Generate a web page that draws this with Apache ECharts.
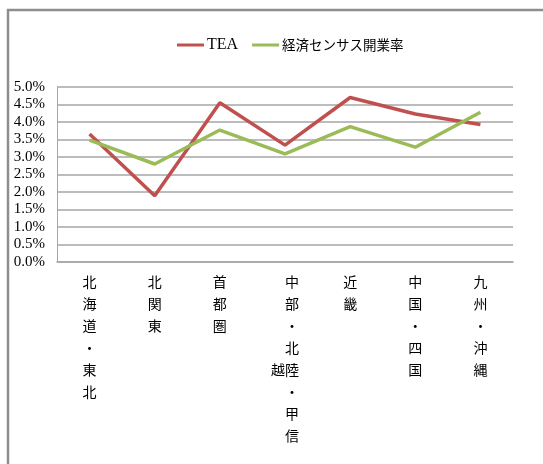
<!DOCTYPE html>
<html>
<head>
<meta charset="utf-8">
<script src="https://cdn.jsdelivr.net/npm/echarts@6/dist/echarts.min.js"></script>
<style>
html,body{margin:0;padding:0;background:#fff;}
#c{width:543px;height:464px;}
</style>
</head>
<body>
<div id="c"></div>
<script>
var categories = ['北海道・東北', '北関東', '首都圏', '中部・北陸・甲信越', '近畿', '中国・四国', '九州・沖縄'];
var teaValues = [3.66, 1.89, 4.55, 3.34, 4.70, 4.23, 3.93];
var censusValues = [3.48, 2.80, 3.77, 3.09, 3.87, 3.28, 4.28];
var seriesNames = ['TEA', '経済センサス開業率'];
var yMin = 0, yMax = 5, yStep = 0.5;

function verticalLabel(name) {
  var chars = Array.from(name);
  if (chars.length > 8) {
    var main = chars.slice(0, 8);
    var rest = chars.slice(8);
    var start = Math.ceil((main.length - rest.length) / 2);
    return main.map(function (c, i) {
      var r = (i >= start && i - start < rest.length) ? rest[i - start] : '\u3000';
      return r + c;
    }).join('\n');
  }
  return chars.join('\n');
}

var chart = echarts.init(document.getElementById('c'));
chart.setOption({
  animation: false,
  backgroundColor: '#ffffff',
  graphic: [{
    type: 'rect',
    shape: {x: 8, y: 10, width: 700, height: 600},
    style: {fill: 'none', stroke: '#8e8e8e', lineWidth: 2.5},
    silent: true
  }],
  legend: {
    top: 32,
    left: 172,
    itemGap: 14,
    itemWidth: 27,
    itemHeight: 3,
    icon: 'rect',
    formatter: function (name) {
      return /^[A-Za-z]+$/.test(name) ? '{lat|' + name + '}' : '{cjk|' + name + '}';
    },
    textStyle: {
      color: '#000',
      padding: [0, 0, 0, -2],
      rich: {
        lat: {fontFamily: '"Liberation Serif"', fontSize: 16, color: '#000'},
        cjk: {fontFamily: '"Noto Sans CJK JP"', fontSize: 13.5, color: '#000'}
      }
    },
    data: seriesNames
  },
  grid: {left: 57, right: 30, top: 87, bottom: 202, containLabel: false},
  xAxis: {
    type: 'category',
    data: categories,
    boundaryGap: true,
    axisLine: {show: true, lineStyle: {color: '#a6a6a6', width: 1.5}},
    axisTick: {show: false},
    axisLabel: {
      interval: 0,
      margin: 9,
      fontSize: 14,
      lineHeight: 22,
      color: '#000',
      verticalAlign: 'top',
      fontFamily: '"Noto Sans CJK JP"',
      formatter: verticalLabel
    }
  },
  yAxis: {
    type: 'value',
    min: yMin,
    max: yMax,
    interval: yStep,
    axisLine: {show: true, lineStyle: {color: '#a6a6a6', width: 1}},
    axisTick: {show: false},
    splitLine: {show: true, lineStyle: {color: '#a6a6a6', width: 1.5}},
    axisLabel: {
      margin: 12,
      fontSize: 15,
      color: '#000',
      fontFamily: '"Liberation Serif"',
      formatter: function (v) { return v.toFixed(1) + '%'; }
    }
  },
  series: [
    {
      name: seriesNames[0],
      type: 'line',
      data: teaValues,
      symbol: 'none',
      color: '#C0504D',
      lineStyle: {width: 3.5, color: '#C0504D'},
      z: 3
    },
    {
      name: seriesNames[1],
      type: 'line',
      data: censusValues,
      symbol: 'none',
      color: '#9BBB59',
      lineStyle: {width: 3.5, color: '#9BBB59'},
      z: 4
    }
  ]
});
</script>
</body>
</html>
